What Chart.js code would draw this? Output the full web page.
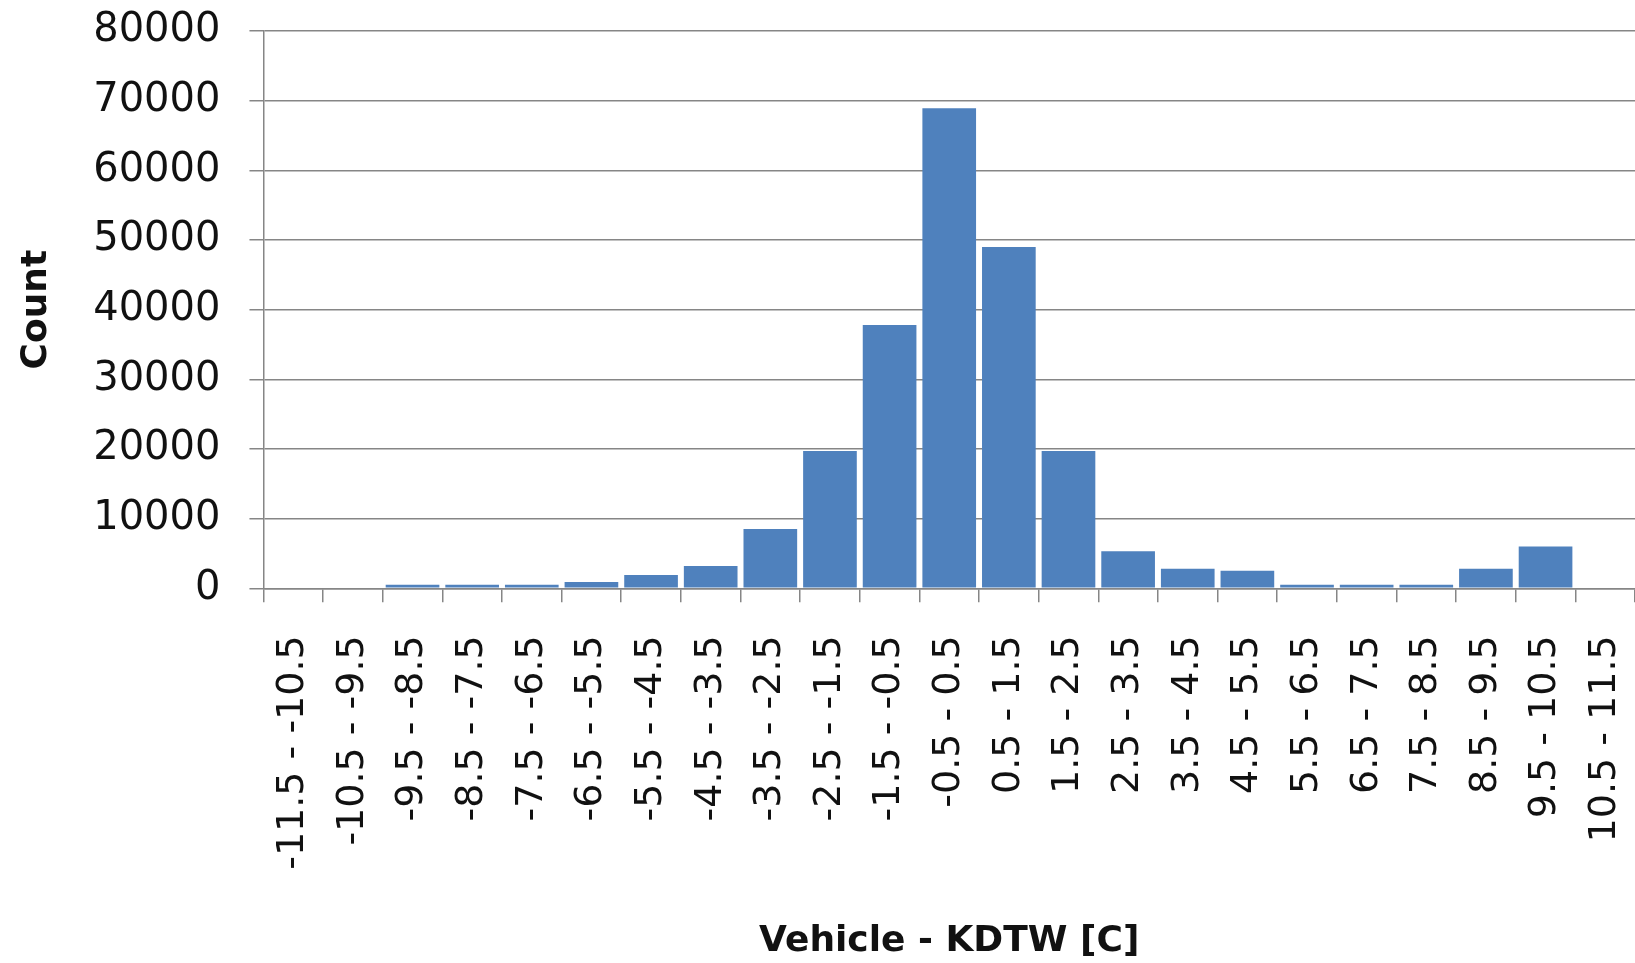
<!DOCTYPE html>
<html>
<head>
<meta charset="utf-8">
<script src="https://cdn.jsdelivr.net/npm/chart.js@4"></script>
<style>
  html, body { margin: 0; padding: 0; background: #fff; overflow: hidden; }
</style>
</head>
<body>
<canvas id="hist" width="1635" height="963"></canvas>
<script>
var bins = [
  "-11.5 - -10.5", "-10.5 - -9.5", "-9.5 - -8.5", "-8.5 - -7.5", "-7.5 - -6.5",
  "-6.5 - -5.5", "-5.5 - -4.5", "-4.5 - -3.5", "-3.5 - -2.5", "-2.5 - -1.5",
  "-1.5 - -0.5", "-0.5 - 0.5", "0.5 - 1.5", "1.5 - 2.5", "2.5 - 3.5",
  "3.5 - 4.5", "4.5 - 5.5", "5.5 - 6.5", "6.5 - 7.5", "7.5 - 8.5",
  "8.5 - 9.5", "9.5 - 10.5", "10.5 - 11.5"
];
var counts = [0, 0, 500, 500, 500, 900, 1900, 3200, 8500, 19700, 37800, 68900,
  49000, 19700, 5300, 2800, 2500, 500, 500, 500, 2800, 6000, 0];

var gridGrey = "#868686";
var font = "'DejaVu Sans', Verdana, sans-serif";

var ctx = document.getElementById("hist");

new Chart(ctx, {
  type: "bar",
  data: {
    labels: bins,
    datasets: [
      {
        label: "Count",
        data: counts,
        backgroundColor: "#4F81BD",
        borderWidth: 0,
        barPercentage: 0.9,
        categoryPercentage: 1.0
      }
    ]
  },
  options: {
    responsive: false,
    animation: false,
    layout: {
      padding: { top: 31, left: 15, right: 0, bottom: 0 }
    },
    plugins: {
      legend: { display: false },
      tooltip: { enabled: false }
    },
    scales: {
      x: {
        offset: true,
        grid: {
          offset: true,
          drawOnChartArea: false,
          drawTicks: true,
          tickLength: 14,
          color: gridGrey,
          lineWidth: 1.5
        },
        border: { color: gridGrey, width: 1.5 },
        ticks: {
          autoSkip: false,
          minRotation: 90,
          maxRotation: 90,
          padding: 33,
          color: "#111",
          font: { family: font, size: 38 }
        },
        title: {
          display: true,
          text: "Vehicle - KDTW [C]",
          color: "#111",
          padding: { top: 17, bottom: 0 },
          font: { family: font, size: 36, weight: "bold" }
        },
        afterFit: function (scale) {
          // keep the plot running right up to the canvas edge
          scale.paddingLeft = 0;
          scale.paddingRight = 0;
        }
      },
      y: {
        min: 0,
        max: 80000,
        ticks: {
          stepSize: 10000,
          padding: 29,
          color: "#111",
          font: { family: font, size: 40 },
          callback: function (v) { return String(v); }
        },
        grid: {
          color: gridGrey,
          lineWidth: 1.5,
          tickLength: 14
        },
        border: { color: gridGrey, width: 1.5 },
        title: {
          display: true,
          text: "Count",
          color: "#111",
          padding: { top: 0, bottom: 6 },
          font: { family: font, size: 36, weight: "bold" }
        },
        afterFit: function (scale) {
          scale.paddingTop = 0;
          scale.paddingBottom = 0;
        }
      }
    }
  }
});
</script>
</body>
</html>
